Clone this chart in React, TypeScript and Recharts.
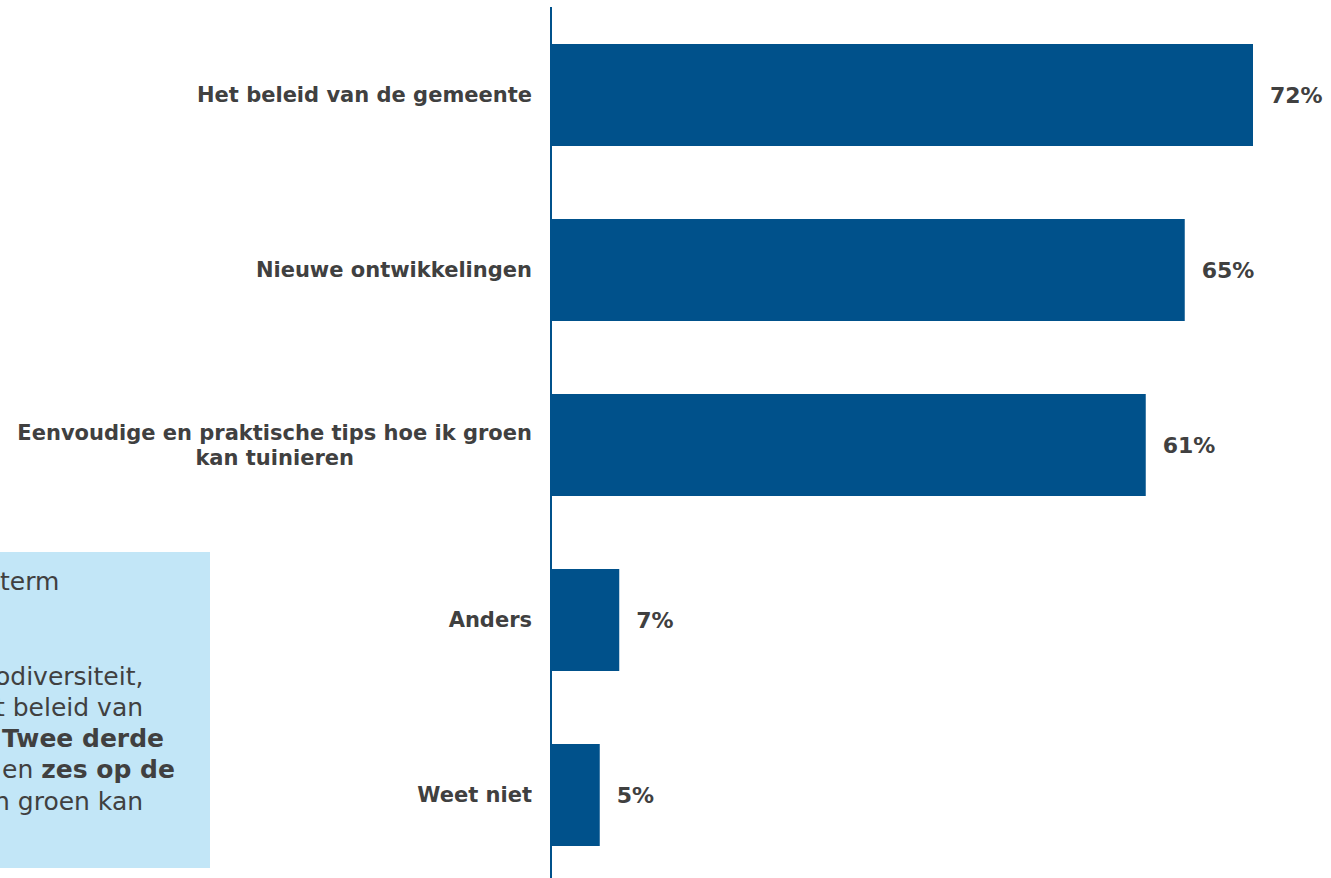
import { BarChart, Bar, XAxis, YAxis, LabelList } from "recharts";

const categories = [
  "Het beleid van de gemeente",
  "Nieuwe ontwikkelingen",
  "Eenvoudige en praktische tips hoe ik groen\nkan tuinieren",
  "Anders",
  "Weet niet",
];
const percentages = [72, 65, 61, 7, 5];

// visible part of the side note (cut off at the left edge)
const noteLines = [
  { top: 566, left: 0, parts: [{ t: "term", b: false }] },
  { top: 661, left: -5, parts: [{ t: "odiversiteit,", b: false }] },
  { top: 692, left: -5, parts: [{ t: "t beleid van", b: false }] },
  { top: 723, left: 2, parts: [{ t: "Twee derde", b: true }] },
  {
    top: 754,
    left: 2,
    parts: [
      { t: "en ", b: false },
      { t: "zes op de", b: true },
    ],
  },
  { top: 786, left: -6, parts: [{ t: "n groen kan", b: false }] },
];

const BLUE = "#00518B";
const TEXT = "#404040";
const FONT = "Verdana, 'DejaVu Sans', sans-serif";

const data = categories.map((name, i) => ({ name, value: percentages[i] }));

function CategoryTick({ x, y, payload }: any) {
  const lines = String(payload.value).split("\n");
  const lineH = 25;
  const h = lines.length * lineH;
  return (
    <foreignObject x={x - 551} y={y - h / 2 + 1} width={540} height={h}>
      <div
        style={{
          display: "flex",
          justifyContent: "flex-end",
          fontFamily: FONT,
          fontWeight: "bold",
          fontSize: 21,
          lineHeight: `${lineH}px`,
          color: TEXT,
        }}
      >
        <div style={{ textAlign: "center", whiteSpace: "pre" }}>
          {lines.join("\n")}
        </div>
      </div>
    </foreignObject>
  );
}

export default function App() {
  return (
    <div
      style={{
        position: "absolute",
        left: 0,
        top: 0,
        width: 1331,
        height: 878,
        overflow: "hidden",
        background: "white",
      }}
    >
      <div
        style={{
          position: "absolute",
          left: 0,
          top: 552,
          width: 210,
          height: 316,
          background: "#C2E6F7",
        }}
      />
      {noteLines.map((ln, i) => (
        <div
          key={i}
          style={{
            position: "absolute",
            left: ln.left,
            top: ln.top,
            lineHeight: "31px",
            fontSize: 25,
            fontFamily: FONT,
            color: TEXT,
            whiteSpace: "pre",
          }}
        >
          {ln.parts.map((p, j) => (
            <span key={j} style={{ fontWeight: p.b ? "bold" : "normal" }}>
              {p.t}
            </span>
          ))}
        </div>
      ))}
      <div style={{ position: "absolute", left: 0, top: 0 }}>
        <BarChart
          width={1331}
          height={890}
          data={data}
          layout="vertical"
          margin={{ top: 7, right: 0, bottom: 8, left: 0 }}
        >
          <XAxis type="number" domain={[0, 80]} hide />
          <YAxis
            type="category"
            dataKey="name"
            width={551}
            axisLine={{ stroke: BLUE, strokeWidth: 2 }}
            tickLine={false}
            tick={<CategoryTick />}
            interval={0}
          />
          <Bar dataKey="value" fill={BLUE} barSize={102} isAnimationActive={false}>
            <LabelList
              dataKey="value"
              position="right"
              offset={17}
              formatter={(v: any) => `${v}%`}
              style={{
                fontFamily: FONT,
                fontWeight: "bold",
                fontSize: 22,
                fill: TEXT,
              }}
            />
          </Bar>
        </BarChart>
      </div>
    </div>
  );
}
